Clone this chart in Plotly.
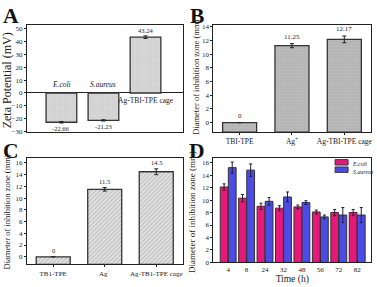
import plotly.graph_objects as go

# ---- Panel A data ----
a_cats = ["E.coli", "S.aureus", "Ag-TBI-TPE cage"]
a_vals = [-22.66, -21.23, 43.24]
a_err = [0.6, 0.5, 1.0]
a_ticks = [-30, -20, -10, 0, 10, 20, 30, 40, 50]

# ---- Panel B data ----
b_cats = ["TBI-TPE", "Ag<sup>+</sup>", "Ag-TBI-TPE cage"]
b_vals = [0, 11.25, 12.17]
b_err = [0, 0.3, 0.5]
b_labels = ["0", "11.25", "12.17"]

# ---- Panel C data ----
c_cats = ["TB1-TPE", "Ag<sup>+</sup>", "Ag-TB1-TPE cage"]
c_vals = [0, 11.5, 14.5]
c_err = [0, 0.3, 0.5]
c_labels = ["0", "11.5", "14.5"]

# ---- Panel D data ----
d_times = ["4", "8", "24", "32", "48", "56", "72", "82"]
d_series = ["E.coli", "S.aureus"]
d_colors = ["#e8177a", "#4b4be6"]
d_ecoli = [12.1, 10.3, 9.0, 8.7, 8.9, 8.1, 8.0, 8.0]
d_ecoli_err = [0.5, 0.6, 0.5, 0.4, 0.3, 0.3, 0.5, 0.5]
d_saureus = [15.2, 14.8, 9.8, 10.5, 9.6, 7.3, 7.6, 7.6]
d_saureus_err = [0.9, 1.0, 0.6, 0.8, 0.3, 0.3, 1.2, 1.2]

SERIF = "Liberation Serif"
INK = "#222222"
W, H = 377, 287

def px_x(p):
    return p / W

def px_y(p):
    return 1 - p / H

b_range = [-1.4, 14.2]
c_range = [-1.3, 16.9]

fig = go.Figure()

# Panel A
fig.add_trace(go.Bar(
    x=list(range(len(a_cats))), y=a_vals, width=0.73,
    marker=dict(color="#d2d2d2", line=dict(color="#333", width=1.3),
                pattern=dict(shape=".", fgcolor="#bbbbbb", bgcolor="#d6d6d6", size=3, solidity=0.2)),
    error_y=dict(type="data", array=a_err, color=INK, thickness=1, width=2),
    xaxis="x", yaxis="y", showlegend=False))

# Panel B
fig.add_trace(go.Bar(
    x=list(range(len(b_cats))), y=[v - b_range[0] for v in b_vals], base=b_range[0], width=0.65,
    marker=dict(color="#b8b8b8", line=dict(color="#333", width=1.3),
                pattern=dict(shape=".", fgcolor="#999999", bgcolor="#bdbdbd", size=3, solidity=0.3)),
    error_y=dict(type="data", array=b_err, color=INK, thickness=1, width=2),
    xaxis="x2", yaxis="y2", showlegend=False))

# Panel C
fig.add_trace(go.Bar(
    x=list(range(len(c_cats))), y=[v - c_range[0] for v in c_vals], base=c_range[0], width=0.66,
    marker=dict(color="#d8d8d8", line=dict(color="#333", width=1.3),
                pattern=dict(shape="/", fgcolor="#8a8a8a", bgcolor="#e2e2e2", size=3, solidity=0.3)),
    error_y=dict(type="data", array=c_err, color=INK, thickness=1, width=2),
    xaxis="x3", yaxis="y3", showlegend=False))

# Panel D
for name, col, vals, errs in [(d_series[0], d_colors[0], d_ecoli, d_ecoli_err),
                              (d_series[1], d_colors[1], d_saureus, d_saureus_err)]:
    fig.add_trace(go.Bar(
        x=d_times, y=vals, name=name,
        marker=dict(color=col, line=dict(color="#333", width=1)),
        error_y=dict(type="data", array=errs, color=INK, thickness=1, width=1.5),
        xaxis="x4", yaxis="y4", showlegend=False))

tickfont = dict(family=SERIF, size=7, color=INK)
frame = dict(showline=True, linecolor=INK, linewidth=1, mirror=True, showgrid=False,
             zeroline=False, tickfont=tickfont, ticks="outside", ticklen=2, tickcolor=INK)

dom_x_left = [px_x(27), px_x(183)]
dom_x_right = [px_x(214), px_x(372)]
dom_y_top = [px_y(133), px_y(24)]
dom_y_bot = [px_y(268), px_y(159)]
dom_y_d = [px_y(266), px_y(159)]

fig.update_layout(
    width=W, height=H,
    margin=dict(l=0, r=0, t=0, b=0),
    paper_bgcolor="white", plot_bgcolor="white",
    font=dict(family=SERIF, color=INK),
    barmode="group", bargap=0.12, bargroupgap=0.04,
    showlegend=False,
    xaxis=dict(frame, domain=dom_x_left, range=[-0.82, 2.88], showticklabels=False, ticks="",
               anchor="y"),
    yaxis=dict(frame, domain=dom_y_top, range=[-30.4, 52.3], tickvals=a_ticks, anchor="x",
               zeroline=True, zerolinecolor=INK, zerolinewidth=1),
    xaxis2=dict(frame, domain=dom_x_right, range=[-0.5, 2.51], tickvals=list(range(3)),
                ticktext=b_cats, anchor="y2", tickfont=dict(family=SERIF, size=7.5, color=INK)),
    yaxis2=dict(frame, domain=dom_y_top, range=b_range, dtick=2, anchor="x2"),
    xaxis3=dict(frame, domain=dom_x_left, range=[-0.51, 2.51], tickvals=list(range(3)),
                ticktext=c_cats, anchor="y3"),
    yaxis3=dict(frame, domain=dom_y_bot, range=c_range, dtick=2, anchor="x3"),
    xaxis4=dict(frame, domain=dom_x_right, range=[-0.8, 7.75], type="category", anchor="y4",
                ticks="inside", ticklen=2,
                tickfont=dict(family=SERIF, size=7, color=INK),
                title=dict(text="Time (h)", standoff=0,
                           font=dict(family=SERIF, size=9.5, color=INK))),
    yaxis4=dict(frame, domain=dom_y_d, range=[0, 16.8], dtick=2, anchor="x4"),
)

ann = []
shapes = []
# Panel letters
for letter, x, y in [("A", 1, 0), ("B", 189, 0), ("C", 1, 138), ("D", 187, 138)]:
    ann.append(dict(text="<b>%s</b>" % letter, x=px_x(x), y=px_y(y), xref="paper", yref="paper",
                    xanchor="left", yanchor="top", showarrow=False,
                    font=dict(family=SERIF, size=21.5, color="#111")))
# Axis titles
ann.append(dict(text="Zeta Potential (mV)", x=px_x(7), y=px_y(80), xref="paper", yref="paper",
                xanchor="center", yanchor="middle",
                textangle=-90, showarrow=False, font=dict(family=SERIF, size=12, color=INK)))
for x, y, s in [(197, 77, 8.5), (7, 214, 8.5), (192, 214, 9)]:
    ann.append(dict(text="Diameter of inhibition zone (mm)", x=px_x(x), y=px_y(y),
                    xref="paper", yref="paper", xanchor="center", yanchor="middle",
                    textangle=-90, showarrow=False,
                    font=dict(family=SERIF, size=s, color=INK)))

# Panel D legend (small swatches like the original)
for k, col in enumerate(d_colors):
    top = 161 + 7.5 * k
    shapes.append(dict(type="rect", xref="paper", yref="paper",
                       x0=px_x(336), x1=px_x(349), y0=px_y(top + 5.5), y1=px_y(top),
                       fillcolor=col, line=dict(color="#333", width=1)))
ann.append(dict(text="<br>".join("<i>%s</i>" % n for n in d_series), x=px_x(351),
                y=px_y(160), xref="paper", yref="paper", xanchor="left", yanchor="top",
                align="left", showarrow=False,
                font=dict(family=SERIF, size=5.9, color=INK)))

# Panel A labels
for i, c in enumerate(a_cats):
    if a_vals[i] < 0:
        ann.append(dict(text="<i>%s</i>" % c, x=i, y=0, xref="x", yref="y", yanchor="bottom",
                        yshift=2, showarrow=False, font=dict(family=SERIF, size=7.5, color=INK)))
        ann.append(dict(text="%.2f" % a_vals[i], x=i, y=a_vals[i] - a_err[i], xref="x", yref="y",
                        yanchor="top", showarrow=False, font=dict(family=SERIF, size=6.5, color=INK)))
    else:
        ann.append(dict(text=c, x=i, y=0, xref="x", yref="y", yanchor="top", yshift=-1,
                        showarrow=False, font=dict(family=SERIF, size=7.5, color=INK)))
        ann.append(dict(text="%.2f" % a_vals[i], x=i, y=a_vals[i] + a_err[i], xref="x", yref="y",
                        yanchor="bottom", showarrow=False, font=dict(family=SERIF, size=6.5, color=INK)))
# Panel B / C value labels
for i in range(3):
    ann.append(dict(text=b_labels[i], x=i, y=b_vals[i] + b_err[i], xref="x2", yref="y2",
                    yanchor="bottom", yshift=1, showarrow=False,
                    font=dict(family=SERIF, size=7, color=INK)))
    ann.append(dict(text=c_labels[i], x=i, y=c_vals[i] + c_err[i], xref="x3", yref="y3",
                    yanchor="bottom", yshift=1, showarrow=False,
                    font=dict(family=SERIF, size=6.5, color=INK)))

fig.update_layout(annotations=ann, shapes=shapes)
fig.write_html("out.html", config={"displayModeBar": False},
               post_script="document.body.style.margin='0';document.body.style.overflow='hidden';")
